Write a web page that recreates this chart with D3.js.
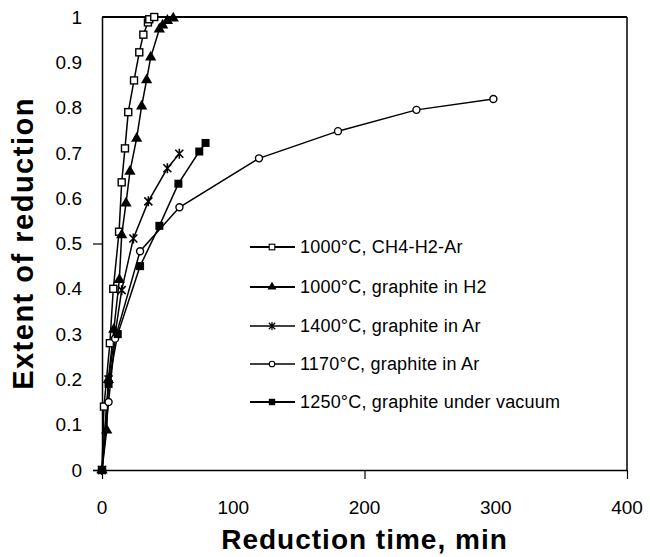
<!DOCTYPE html>
<html>
<head>
<meta charset="utf-8">
<script src="https://cdn.jsdelivr.net/npm/d3@7"></script>
<style>
  body { margin: 0; background: #fff; }
  text { font-family: "Liberation Sans", Arial, sans-serif; fill: #000; }
</style>
</head>
<body>
<div id="chart"></div>
<script>
// series data: [time (min), extent of reduction]
const ch4H2Ar = [[0,0],[1.5,0.14],[6,0.28],[8.6,0.40],[13,0.526],[15,0.635],[17.5,0.71],[20,0.79],[24.4,0.86],[28.4,0.922],[31.5,0.961],[35,0.988],[36,0.995],[39.8,1.0]];
const graphiteH2 = [[0,0],[3.6,0.088],[4.8,0.199],[9,0.31],[13.2,0.42],[15,0.519],[18.3,0.589],[21.3,0.659],[26.4,0.732],[30.2,0.803],[34,0.861],[37.1,0.911],[43.7,0.973],[46.2,0.982],[49.8,0.992],[54.3,0.997]];
const graphiteAr1400 = [[0,0],[5,0.2],[10,0.3],[15,0.397],[23.9,0.511],[35.3,0.593],[49.8,0.666],[58.9,0.698]];
const graphiteAr1170 = [[0,0],[5,0.15],[10,0.29],[29,0.483],[59,0.58],[119.6,0.688],[179.8,0.748],[239.6,0.795],[298.2,0.819]];
const vacuum1250 = [[0,0],[5,0.19],[12,0.30],[29,0.45],[43.7,0.539],[58.2,0.632],[74.1,0.703],[78.9,0.722]];

const seriesNames = ["1000°C, CH4-H2-Ar", "1000°C, graphite in H2", "1400°C, graphite in Ar", "1170°C, graphite in Ar", "1250°C, graphite under vacuum"];
const seriesMarkers = ["openSquare", "triangle", "star", "openCircle", "square"];
const seriesData = [ch4H2Ar, graphiteH2, graphiteAr1400, graphiteAr1170, vacuum1250];

const yTickLabels = [0, 0.1, 0.2, 0.3, 0.4, 0.5, 0.6, 0.7, 0.8, 0.9, 1];
const xTickLabels = [0, 100, 200, 300, 400];
const yTickMarks = [0, 0.5];
const xTickMarks = [0, 200, 400];

const W = 650, H = 557;
const margin = {top: 17, right: 23, bottom: 87, left: 102};
const width = W - margin.left - margin.right;
const height = H - margin.top - margin.bottom;

const svg = d3.select("#chart").append("svg")
    .attr("width", W)
    .attr("height", H);

const g = svg.append("g")
    .attr("transform", `translate(${margin.left},${margin.top})`);

const x = d3.scaleLinear().domain([0, 400]).range([0, width]);
const y = d3.scaleLinear().domain([0, 1]).range([height, 0]);

// frame: top and right edges
g.append("line").attr("x1", 0).attr("x2", width).attr("y1", 0).attr("y2", 0)
    .attr("stroke", "#000").attr("stroke-width", 2);
g.append("line").attr("x1", width).attr("x2", width).attr("y1", 0).attr("y2", height)
    .attr("stroke", "#000").attr("stroke-width", 1.5);

// axes (ticks only at a few positions, labels drawn separately)
const xAxis = d3.axisBottom(x).tickValues(xTickMarks).tickSize(9).tickFormat("");
const yAxis = d3.axisLeft(y).tickValues(yTickMarks).tickSize(9).tickFormat("");

g.append("g").attr("class", "x-axis")
    .attr("transform", `translate(0,${height})`)
    .call(xAxis)
    .call(a => a.select(".domain").attr("d", `M-9,0.5H${width}`).attr("stroke-width", 1.5));
g.append("g").attr("class", "y-axis")
    .call(yAxis)
    .call(a => a.select(".domain").attr("d", `M0.5,0V${height}`).attr("stroke-width", 1.5));

g.selectAll(".tick line").attr("stroke-width", 1.2);

// tick labels
g.selectAll(".ylab").data(yTickLabels).enter().append("text")
    .attr("class", "ylab")
    .attr("x", -20)
    .attr("y", d => y(d))
    .attr("dy", "0.35em")
    .attr("text-anchor", "end")
    .style("font-size", "19px")
    .text(d => d);

g.selectAll(".xlab").data(xTickLabels).enter().append("text")
    .attr("class", "xlab")
    .attr("x", d => x(d))
    .attr("y", height + 44)
    .attr("text-anchor", "middle")
    .style("font-size", "19px")
    .text(d => d);

// axis titles
svg.append("text")
    .attr("x", margin.left + x(200))
    .attr("y", 549)
    .attr("text-anchor", "middle")
    .style("font-size", "28px")
    .style("font-weight", "bold")
    .style("letter-spacing", "1px")
    .text("Reduction time, min");

svg.append("text")
    .attr("transform", `translate(33,${margin.top + y(0.5)}) rotate(-90)`)
    .attr("text-anchor", "middle")
    .style("font-size", "29px")
    .style("font-weight", "bold")
    .style("letter-spacing", "1.5px")
    .text("Extent of reduction");

// marker drawing
function drawMarker(sel, type) {
    if (type === "openSquare") {
        sel.append("rect").attr("x", -3.5).attr("y", -3.5).attr("width", 7).attr("height", 7)
            .attr("fill", "#fff").attr("stroke", "#000").attr("stroke-width", 1.4);
    } else if (type === "square") {
        sel.append("rect").attr("x", -4).attr("y", -4).attr("width", 8).attr("height", 8)
            .attr("fill", "#000");
    } else if (type === "triangle") {
        sel.append("path").attr("d", d3.symbol(d3.symbolTriangle, 55)).attr("fill", "#000");
    } else if (type === "openCircle") {
        sel.append("circle").attr("r", 3.5)
            .attr("fill", "#fff").attr("stroke", "#000").attr("stroke-width", 1.4);
    } else if (type === "star") {
        sel.append("path").attr("d", "M-4,-4L4,4M-4,4L4,-4M0,-5V5")
            .attr("stroke", "#000").attr("stroke-width", 1.6);
    }
}

const line = d3.line().x(d => x(d[0])).y(d => y(d[1]));

seriesData.forEach((data, i) => {
    g.append("path")
        .datum(data)
        .attr("fill", "none")
        .attr("stroke", "#000")
        .attr("stroke-width", 1.5)
        .attr("d", line);
});

seriesData.forEach((data, i) => {
    g.selectAll(".m" + i).data(data).enter().append("g")
        .attr("class", "m" + i)
        .attr("transform", d => `translate(${x(d[0])},${y(d[1])})`)
        .each(function() { drawMarker(d3.select(this), seriesMarkers[i]); });
});

// legend
const legendRows = [247, 287, 326, 364, 402];
const legend = svg.append("g");
seriesNames.forEach((name, i) => {
    const row = legend.append("g").attr("transform", `translate(0,${legendRows[i]})`);
    row.append("line").attr("x1", 250).attr("x2", 295).attr("y1", 0).attr("y2", 0)
        .attr("stroke", "#000").attr("stroke-width", i === 0 || i === 1 || i === 4 ? 2 : 1.3);
    const m = row.append("g");
    drawMarker(m, seriesMarkers[i]);
    m.attr("transform", "translate(272,0) scale(0.8)");
    row.append("text").attr("x", 300).attr("y", 0).attr("dy", "0.35em")
        .style("font-size", "18px")
        .style("letter-spacing", "0.2px")
        .text(name);
});
</script>
</body>
</html>
